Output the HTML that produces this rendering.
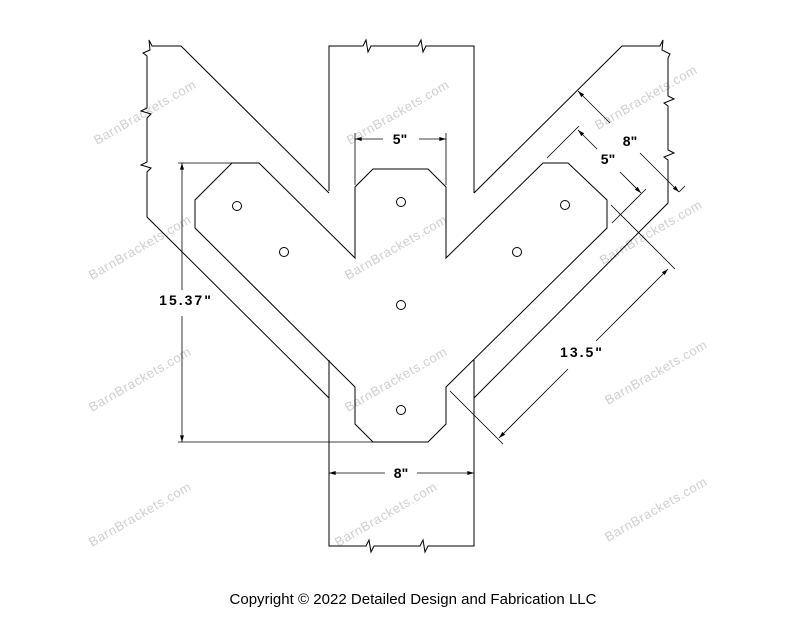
<!DOCTYPE html>
<html><head><meta charset="utf-8"><style>
html,body{margin:0;padding:0;background:#fff;}
svg{display:block}
</style></head><body>
<svg width="800" height="618" viewBox="0 0 800 618" xmlns="http://www.w3.org/2000/svg">
<defs>
<marker id="a" viewBox="0 0 10 6" refX="10" refY="3" markerWidth="8" markerHeight="4" orient="auto-start-reverse" markerUnits="userSpaceOnUse"><path d="M0,0 L10,3 L0,6z" fill="#000"/></marker>
</defs>
<g font-family="Liberation Sans, sans-serif" font-size="13" letter-spacing="0.6" fill="#cfcfcf">
<text transform="translate(97,145) rotate(-30)">BarnBrackets.com</text>
<text transform="translate(350,145) rotate(-30)">BarnBrackets.com</text>
<text transform="translate(598,130) rotate(-30)">BarnBrackets.com</text>
<text transform="translate(92,280) rotate(-30)">BarnBrackets.com</text>
<text transform="translate(348,280) rotate(-30)">BarnBrackets.com</text>
<text transform="translate(603,265) rotate(-30)">BarnBrackets.com</text>
<text transform="translate(92,412) rotate(-30)">BarnBrackets.com</text>
<text transform="translate(348,412) rotate(-30)">BarnBrackets.com</text>
<text transform="translate(608,405) rotate(-30)">BarnBrackets.com</text>
<text transform="translate(92,547) rotate(-30)">BarnBrackets.com</text>
<text transform="translate(338,547) rotate(-30)">BarnBrackets.com</text>
<text transform="translate(608,542) rotate(-30)">BarnBrackets.com</text>
</g>
<g fill="none" stroke="#000" stroke-width="1">
<path d="M329,191 V46 H363 L366,40 L368,52 L371,46 H418 L421,40 L423,52 L426,46 H474 V193"/>
<path d="M329,360 V546 H366 L369,540 L371,552 L374,546 H420 L423,540 L425,552 L428,546 H474 V360"/>
<path d="M329,193 L181,46 H152 L149,40 L150,50 L143,53 L147,56 V108 L141,111 L151,114 L147,118 V162 L141,165 L151,168 L147,172 V217 L329,398"/>
<path d="M474,193 L622,46 H660 L663,40 L662,50 L670,54 L668,58 V96 L674,99 L664,103 L668,106 V150 L674,153 L664,157 L668,160 V203 L474,398"/>
<path d="M232,163 H259 L355,258 V187 L373,169 H428 L446,187 V258 L543,163 H568 L607,200 V228 L446,387 V424 L428,442 H373 L355,424 V387 L195,228 V200 Z"/>
</g>
<g fill="#fff" stroke="#000" stroke-width="1">
<circle cx="237" cy="206" r="4.5"/><circle cx="284" cy="252" r="4.5"/>
<circle cx="401" cy="202" r="4.5"/><circle cx="401" cy="305" r="4.5"/>
<circle cx="401" cy="410" r="4.5"/><circle cx="517" cy="252" r="4.5"/>
<circle cx="565" cy="205" r="4.5"/>
</g>
<g fill="none" stroke="#000" stroke-width="0.8">
<path d="M355,133 V185 M446,133 V185"/>
<path d="M383,139 H355" marker-end="url(#a)"/><path d="M419,139 H446" marker-end="url(#a)"/>
<path d="M178,163 H232 M178,442 H373"/>
<path d="M182,290 V163" marker-end="url(#a)"/><path d="M182,316 V442" marker-end="url(#a)"/>
<path d="M385,473 H329" marker-end="url(#a)"/><path d="M417,473 H474" marker-end="url(#a)"/>
<path d="M610,123 L578,91" marker-end="url(#a)"/><path d="M640,153 L679,192" marker-end="url(#a)"/>
<path d="M679,192 L685,186"/>
<path d="M547,158 L579,126"/>
<path d="M597,149 L578,130" marker-end="url(#a)"/><path d="M620,172 L641,193" marker-end="url(#a)"/>
<path d="M612,223 L646,189"/>
<path d="M450,391 L503,444 M611,205 L675,269"/>
<path d="M568,369 L499,438" marker-end="url(#a)"/><path d="M596,341 L668,269" marker-end="url(#a)"/>
</g>
<g font-family="Liberation Sans, sans-serif" font-weight="bold" font-size="14" fill="#000" text-anchor="middle">
<text x="400" y="144">5"</text>
<text x="186" y="305" letter-spacing="2">15.37"</text>
<text x="401" y="478">8"</text>
<text x="630" y="146">8"</text>
<text x="608" y="164">5"</text>
<text x="582" y="357" letter-spacing="2">13.5"</text>
</g>
<text x="413" y="604" font-family="Liberation Sans, sans-serif" font-size="15" text-anchor="middle" textLength="367" fill="#000">Copyright © 2022 Detailed Design and Fabrication LLC</text>
</svg>
</body></html>
